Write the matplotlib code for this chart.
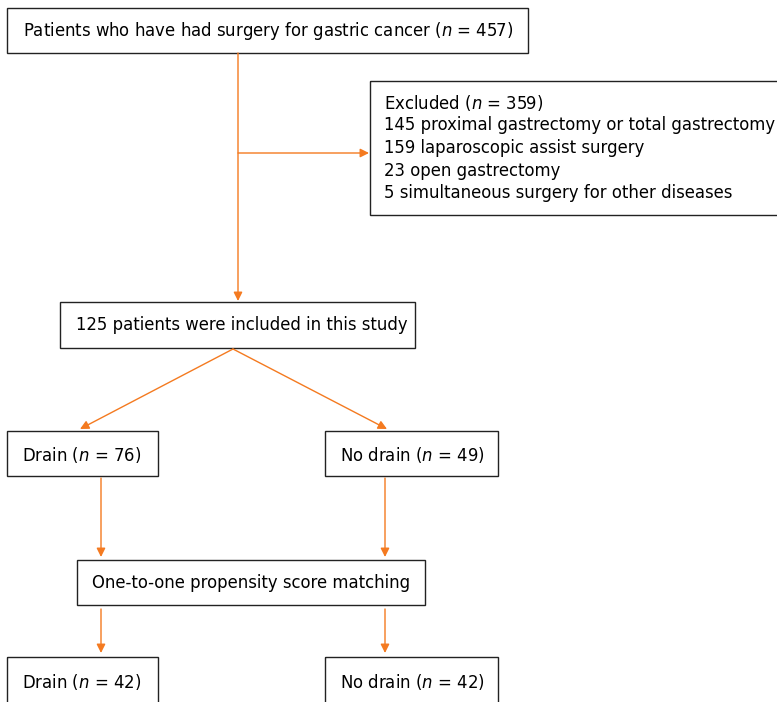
import matplotlib.pyplot as plt
from matplotlib.patches import Rectangle

plt.rcParams['font.family'] = 'DejaVu Sans'
plt.rcParams['mathtext.fontset'] = 'dejavusans'

# box labels
total_label = 'Patients who have had surgery for gastric cancer ($n$ = 457)'
excluded_lines = ['Excluded ($n$ = 359)',
                  '145 proximal gastrectomy or total gastrectomy',
                  '159 laparoscopic assist surgery',
                  '23 open gastrectomy',
                  '5 simultaneous surgery for other diseases']
included_label = '125 patients were included in this study'
group_labels = ['Drain ($n$ = 76)', 'No drain ($n$ = 49)']
matching_label = 'One-to-one propensity score matching'
matched_labels = ['Drain ($n$ = 42)', 'No drain ($n$ = 42)']

orange = '#F47A20'
fs = 11.9

fig = plt.figure(figsize=(7.77, 7.02), dpi=100)
ax = fig.add_axes([0, 0, 1, 1])
ax.set_xlim(0, 777)
ax.set_ylim(702, 0)
ax.axis('off')


def box(x0, y0, x1, y1):
    ax.add_patch(Rectangle((x0, y0), x1 - x0, y1 - y0, fill=False,
                           edgecolor='#222222', lw=1.0))


def arrow(x0, y0, x1, y1):
    ax.annotate('', xy=(x1, y1), xytext=(x0, y0),
                arrowprops=dict(arrowstyle='-|>', color=orange, lw=1.0,
                                mutation_scale=13, shrinkA=0, shrinkB=0))


# top box
box(7, 8, 528, 53)
ax.text(23, 31, total_label, fontsize=fs, va='center', ha='left')

# excluded box
box(370, 81, 790, 215)
for i, line in enumerate(excluded_lines):
    ax.text(384, 103 + i * 22.5, line, fontsize=fs, va='center', ha='left')

# main vertical + branch
arrow(238, 53, 238, 301)
arrow(238, 153, 369, 153)

# included
box(60, 302, 415, 348)
ax.text(76, 325, included_label, fontsize=fs, va='center', ha='left')

arrow(233, 349, 80, 429)
arrow(233, 349, 387, 429)

# groups
box(7, 431, 158, 476)
ax.text(22, 455, group_labels[0], fontsize=fs, va='center', ha='left')
box(325, 431, 498, 476)
ax.text(340, 455, group_labels[1], fontsize=fs, va='center', ha='left')

arrow(101, 478, 101, 557)
arrow(385, 478, 385, 557)

# matching
box(77, 560, 425, 605)
ax.text(92, 583, matching_label, fontsize=fs, va='center', ha='left')

arrow(101, 609, 101, 653)
arrow(385, 609, 385, 653)

# matched groups
box(7, 657, 158, 720)
ax.text(22, 682, matched_labels[0], fontsize=fs, va='center', ha='left')
box(325, 657, 498, 720)
ax.text(340, 682, matched_labels[1], fontsize=fs, va='center', ha='left')

fig.savefig('out.png', dpi=100)
